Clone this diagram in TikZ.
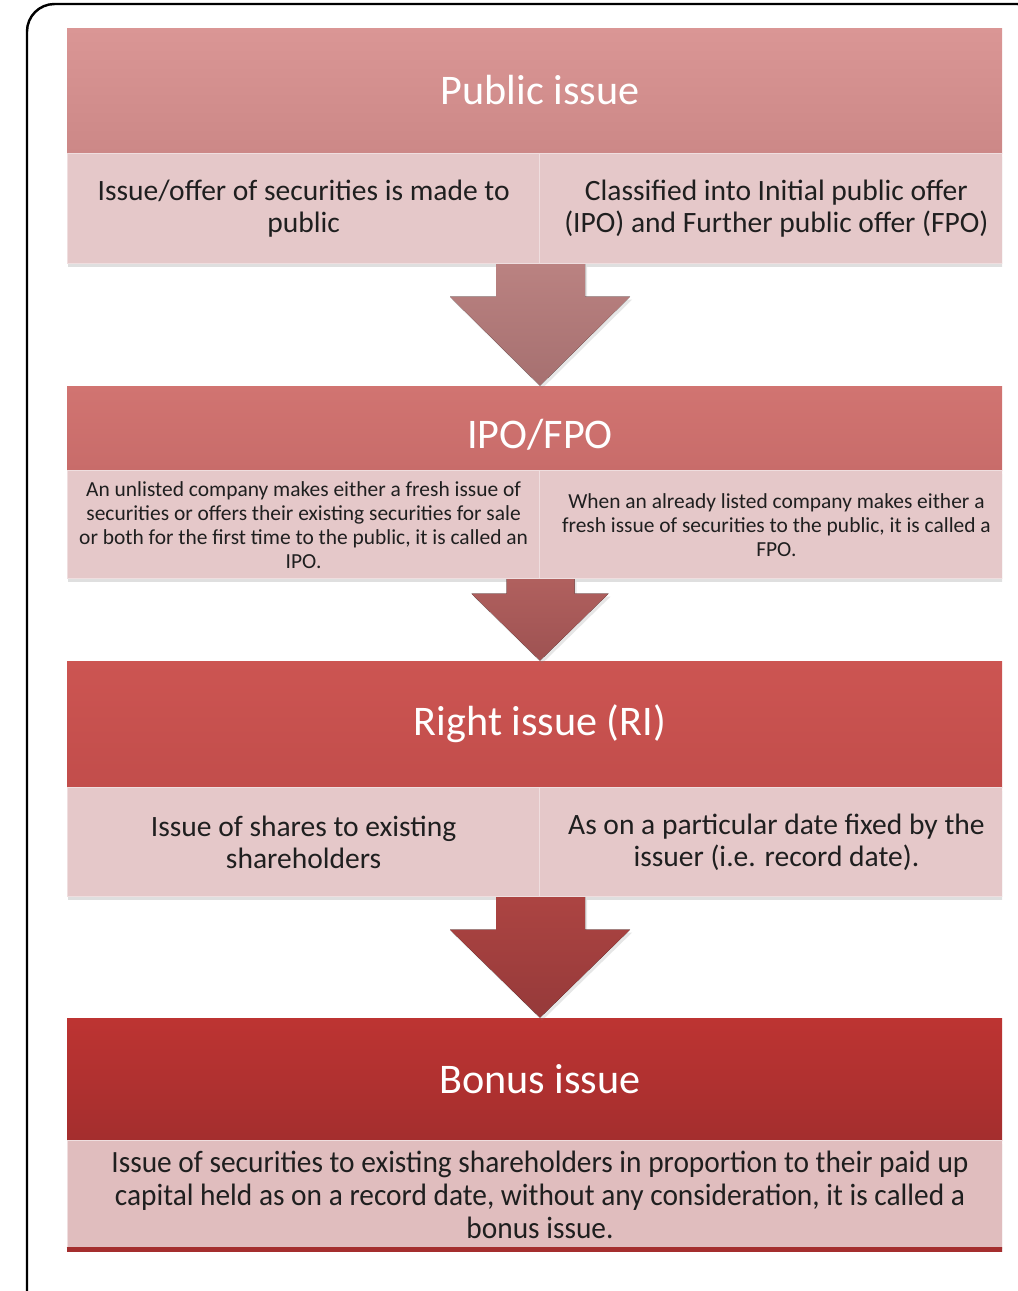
\documentclass[tikz,border=0pt]{standalone}
\usepackage{fontspec}
\setmainfont{Carlito}
\newfontfamily\narrowfont{Carlito}[FakeStretch=0.95]
\usetikzlibrary{positioning,calc,shadows}
\definecolor{hdrOne}{RGB}{218,150,149}
\definecolor{hdrOneB}{RGB}{204,136,135}
\definecolor{hdrTwo}{RGB}{209,116,113}
\definecolor{hdrTwoB}{RGB}{200,108,106}
\definecolor{hdrThree}{RGB}{204,85,82}
\definecolor{hdrThreeB}{RGB}{194,77,75}
\definecolor{hdrFour}{RGB}{189,52,50}
\definecolor{hdrFourB}{RGB}{164,46,46}
\definecolor{noteFill}{RGB}{229,200,201}
\definecolor{noteFillB}{RGB}{224,189,190}
\definecolor{arrOne}{RGB}{186,130,129}
\definecolor{arrOneB}{RGB}{166,112,112}
\definecolor{arrTwo}{RGB}{176,96,94}
\definecolor{arrTwoB}{RGB}{158,82,82}
\definecolor{arrThree}{RGB}{172,68,66}
\definecolor{arrThreeB}{RGB}{150,58,58}
\tikzset{issueflow/.style={
  font=\rmfamily,
  header/.style={minimum width=18.92cm, inner sep=0pt, text=white, font=\fontsize{24}{28}\selectfont},
  note/.style={fill=noteFill, draw=noteFill!60!white, line width=0.5pt, minimum width=9.46cm, minimum height=2.2cm,
    inner sep=3pt, align=center, text=black!88, font=\fontsize{16.8}{18.1}\selectfont,
    drop shadow={shadow xshift=0.02cm, shadow yshift=-0.06cm, opacity=0.25}},
  small/.style={font=\fontsize{12.2}{13.6}\selectfont},
  bigarrow/.style={draw=none, drop shadow={shadow xshift=0.04cm, shadow yshift=-0.06cm, opacity=0.2}},
  frame/.style={line width=1.4pt, rounded corners=0.55cm},
}}

\begin{document}
\begin{tikzpicture}[issueflow]
\useasboundingbox (0,0) rectangle (20.36,-25.82);

% outer frame (runs past the right and bottom edges)
\draw[frame] (0.54,-0.08) rectangle (20.9,-26.4);

\begin{scope}
\clip (0,0) rectangle (20.04,-25.82);

% =====================================================================
%  Public issue
% =====================================================================
\node[header, top color=hdrOne, bottom color=hdrOneB, minimum height=2.5cm] (pub) at (10.8,-1.81) {Public issue};
\node[note, anchor=north west] (pubL) at (pub.south west) {Issue/offer of securities is made to\\public};
\node[note, anchor=north east] (pubR) at (pub.south east) {Classified into Initial public offer\\(IPO) and Further public offer (FPO)};

% =====================================================================
%  IPO/FPO
% =====================================================================
\node[header, top color=hdrTwo, bottom color=hdrTwoB, minimum height=1.68cm, text height=0.85cm] (ipo) at (10.8,-8.56) {IPO/FPO};
\node[note, small, minimum height=2.16cm, anchor=north west] (ipoL) at (ipo.south west)
  {An unlisted company makes either a fresh issue of\\securities or offers their existing securities for sale\\or both for the first time to the public, it is called an\\IPO.};
\node[note, small, minimum height=2.16cm, anchor=north east] (ipoR) at (ipo.south east)
  {When an already listed company makes either a\\fresh issue of securities to the public, it is called a\\FPO.};

% =====================================================================
%  Right issue (RI)
% =====================================================================
\node[header, top color=hdrThree, bottom color=hdrThreeB, minimum height=2.52cm] (ri) at (10.8,-14.48) {Right issue (RI)};
\node[note, minimum height=2.18cm, anchor=north west] (riL) at (ri.south west) {Issue of shares to existing\\shareholders};
\node[note, minimum height=2.18cm, anchor=north east] (riR) at (ri.south east) {As on a particular date fixed by the\\issuer (i.e. record date).};

% =====================================================================
%  Bonus issue
% =====================================================================
\node[header, top color=hdrFour, bottom color=hdrFourB, minimum height=2.44cm] (bonus) at (10.8,-21.58) {Bonus issue};
\node[note, fill=noteFillB, minimum width=18.92cm, minimum height=2.16cm, anchor=north, font=\narrowfont\fontsize{17.6}{18.7}\selectfont] (bonusN) at (bonus.south)
  {Issue of securities to existing shareholders in proportion to their paid up\\capital held as on a record date, without any consideration, it is called a\\bonus issue.};
\draw[hdrFourB, line width=0.1cm] (bonusN.south west) -- (bonusN.south east);

% block arrows between the stages
\fill[bigarrow, top color=arrOne, bottom color=arrOneB]
  ($(pubL.south east)+(-0.89,0)$) |- ($(ipo.north)+(-1.8,1.78)$) -- (ipo.north)
  -- ($(ipo.north)+(1.8,1.78)$) -| ($(pubL.south east)+(0.89,0)$) -- cycle;
\fill[bigarrow, top color=arrTwo, bottom color=arrTwoB]
  ($(ipoL.south east)+(-0.68,0)$) |- ($(ri.north)+(-1.37,1.34)$) -- (ri.north)
  -- ($(ri.north)+(1.37,1.34)$) -| ($(ipoL.south east)+(0.68,0)$) -- cycle;
\fill[bigarrow, top color=arrThree, bottom color=arrThreeB]
  ($(riL.south east)+(-0.89,0)$) |- ($(bonus.north)+(-1.8,1.76)$) -- (bonus.north)
  -- ($(bonus.north)+(1.8,1.76)$) -| ($(riL.south east)+(0.89,0)$) -- cycle;
\end{scope}
\end{tikzpicture}
\end{document}
